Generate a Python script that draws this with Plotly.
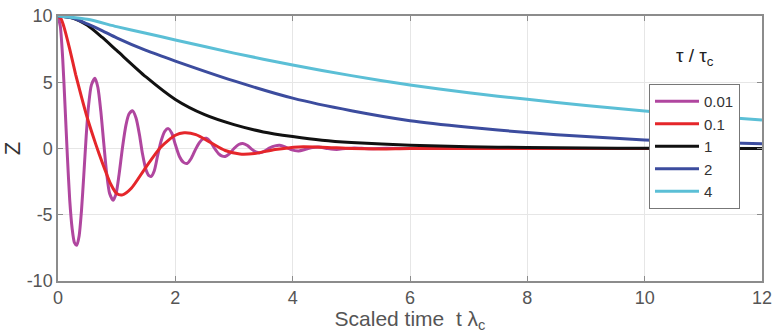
import plotly.graph_objects as go

# ---- data ----
t_mag = [0, 0.04, 0.08, 0.12, 0.16, 0.2, 0.24, 0.28, 0.32, 0.36, 0.4, 0.44, 0.48, 0.52, 0.57, 0.63,
         0.68, 0.73, 0.78, 0.83, 0.88, 0.94, 0.99, 1.04, 1.1, 1.16, 1.21, 1.27, 1.33, 1.39, 1.44,
         1.5, 1.55, 1.59, 1.64, 1.7, 1.76, 1.82, 1.88, 1.94, 2.0, 2.07, 2.14, 2.2, 2.27, 2.34,
         2.41, 2.47, 2.53, 2.6, 2.67, 2.74, 2.8, 2.85, 2.92, 3.0, 3.08, 3.15, 3.23, 3.3, 3.37,
         3.44, 3.52, 3.61, 3.7, 3.78, 3.87, 3.97, 4.1, 4.22, 4.34, 4.45, 4.6, 4.75, 4.9, 5.05,
         5.3, 5.6, 6.0, 7.0, 8.0, 9.0, 10.0, 11.0, 12.0]
z_mag = [10, 9.2, 6.8, 3.2, -0.6, -3.9, -6.0, -7.1, -7.3, -6.6, -4.7, -2.0, 0.9, 3.2, 4.8, 5.3,
         4.6, 2.8, 0.4, -1.9, -3.4, -3.9, -3.4, -2.0, 0.1, 1.8, 2.6, 2.85, 2.3, 1.0, -0.4,
         -1.6, -2.05, -2.1, -1.7, -0.5, 0.6, 1.3, 1.5, 1.15, 0.3, -0.6, -1.05, -1.13, -0.75, -0.1,
         0.45, 0.72, 0.77, 0.5, 0.0, -0.4, -0.58, -0.6, -0.4, 0.0, 0.3, 0.38, 0.22, -0.05, -0.26,
         -0.33, -0.2, 0.05, 0.2, 0.24, 0.12, -0.08, -0.18, -0.06, 0.08, 0.11, 0.0, -0.07, 0.0, 0.04,
         -0.02, 0.01, 0, 0, 0, 0, 0, 0, 0]

t_red = [0, 0.05, 0.1, 0.2, 0.3, 0.4, 0.5, 0.6, 0.7, 0.8, 0.9, 1.0, 1.1, 1.25, 1.5, 1.75, 2.0,
         2.15, 2.35, 2.6, 2.85, 3.1, 3.35, 3.7, 4.1, 4.5, 5.0, 5.5, 6.0, 8.0, 10.0, 12.0]
z_red = [10, 9.8, 9.2, 7.5, 5.6, 3.9, 2.3, 0.9, -0.4, -1.6, -2.7, -3.4, -3.5, -3.0, -1.4, 0.1, 1.0,
         1.18, 1.05, 0.45, -0.15, -0.42, -0.38, -0.08, 0.12, 0.1, 0.0, -0.03, 0.0, 0, 0, 0]

t_blk = [0, 0.25, 0.5, 0.75, 1.0, 1.5, 2.0, 2.5, 3.0, 3.5, 4.0, 4.5, 5.0, 6.0, 7.0, 8.0, 9.0, 10.0, 12.0]
z_blk = [10, 9.85, 9.3, 8.4, 7.4, 5.4, 3.7, 2.55, 1.8, 1.25, 0.9, 0.62, 0.45, 0.25, 0.13, 0.07, 0.03, 0.01, 0]

t_blu = [0, 0.25, 0.5, 0.75, 1.0, 1.5, 2.0, 3.0, 4.0, 5.0, 6.0, 7.0, 8.0, 9.0, 10.0, 11.0, 12.0]
z_blu = [10, 9.85, 9.4, 8.9, 8.35, 7.4, 6.6, 5.1, 3.8, 2.85, 2.1, 1.6, 1.2, 0.9, 0.65, 0.48, 0.35]

t_cyn = [0, 0.5, 1.0, 1.5, 2.0, 3.0, 4.0, 5.0, 6.0, 7.0, 8.0, 9.0, 10.0, 11.0, 12.0]
z_cyn = [10, 9.75, 9.2, 8.7, 8.19, 7.2, 6.3, 5.5, 4.79, 4.2, 3.71, 3.25, 2.83, 2.47, 2.15]

names = ["0.01", "0.1", "1", "2", "4"]
colors = ["#b0469f", "#e5262a", "#111111", "#3c4c9e", "#5bbfd6"]
series = [(t_mag, z_mag), (t_red, z_red), (t_blk, z_blk), (t_blu, z_blu), (t_cyn, z_cyn)]

x_ticks = [0, 2, 4, 6, 8, 10, 12]
y_ticks = [-10, -5, 0, 5, 10]
y_ticktext = ["-10", "-5", "0", "5", "10"]

fig = go.Figure()
for (tx, zy), nm, col in zip(series, names, colors):
    fig.add_trace(go.Scatter(x=tx, y=zy, mode="lines", name=nm,
                             line=dict(color=col, width=3, shape="spline", smoothing=0.7)))

axis_common = dict(showgrid=True, gridcolor="#e6e6e6", gridwidth=1, zeroline=False,
                   showline=True, linecolor="#8c8c8c", linewidth=1.5, mirror="ticks",
                   ticks="inside", ticklen=5, tickcolor="#8c8c8c", automargin=False,
                   ticklabeloverflow="allow",
                   tickfont=dict(family="Liberation Sans, Arial", size=18, color="#555555"))

fig.update_layout(
    width=772, height=333,
    margin=dict(l=58, r=10, t=16, b=52),
    paper_bgcolor="white", plot_bgcolor="white",
    font=dict(family="Liberation Sans, Arial", color="#555555"),
    xaxis=dict(range=[0, 12], tickvals=x_ticks,
               title=dict(text="Scaled time  t λ<sub>c</sub>", standoff=2,
                          font=dict(size=21, color="#555555")),
               **axis_common),
    yaxis=dict(range=[-10, 10], tickvals=y_ticks, ticktext=y_ticktext,
               title=dict(text="Z", standoff=2, font=dict(size=22, color="#333333")),
               **axis_common),
    legend=dict(x=0.8395, y=0.743, xanchor="left", yanchor="top",
                bgcolor="white", bordercolor="#777777", borderwidth=1,
                font=dict(family="Liberation Sans, Arial", size=15, color="#333333"),
                tracegroupgap=0, itemwidth=44),
    showlegend=True,
    annotations=[dict(text="τ / τ<sub>c</sub>", x=0.905, y=0.845, xref="paper", yref="paper",
                      xanchor="center", yanchor="middle",
                      showarrow=False, font=dict(family="Liberation Sans, Arial", size=19, color="#222222"))],
)

fig.write_html("out.html")
